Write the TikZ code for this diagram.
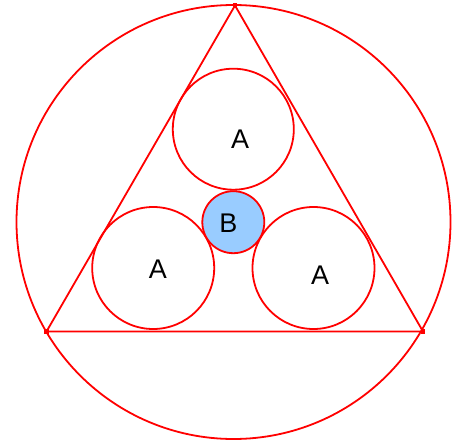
\documentclass[tikz,border=0pt]{standalone}
\usepackage{fontspec}
\setmainfont{Liberation Sans}
\begin{document}
\begin{tikzpicture}[x=1pt,y=-1pt,
  ring/.style={draw=red,line width=1.8pt,circle,inner sep=0pt},
  vmark/.style={fill=red,draw=none,minimum size=4.5pt,inner sep=0pt,rectangle},
  lbl/.style={font=\fontsize{27}{30}\selectfont,text=black,inner sep=0pt}]
\useasboundingbox (0,0) rectangle (457,441);
\node[ring,minimum size=434pt] (big) at (233.5,222) {};
\coordinate (t) at (235,5.5);
\coordinate (l) at (46.5,331.5);
\coordinate (r) at (423,331.5);
\draw[red,line width=1.8pt,line join=miter] (t) -- (l) -- (r) -- cycle;
\node[vmark] (mt) at (t) {};
\node[vmark] (ml) at (l) {};
\node[vmark] (mr) at (r) {};
\node[ring,minimum size=121pt] (atop) at (233.3,129.2) {};
\node[ring,minimum size=122pt] (aleft) at (153.2,268) {};
\node[ring,minimum size=122pt] (aright) at (313.5,268) {};
\node[ring,minimum size=62pt,fill={rgb,255:red,153;green,204;blue,255}] (b) at (233.3,222.2) {};
\node[lbl] (la1) at (240,139) {A};
\node[lbl] (la2) at (158,269) {A};
\node[lbl] (la3) at (320,275) {A};
\node[lbl] (lb) at (228.5,223) {B};
\end{tikzpicture}
\end{document}
